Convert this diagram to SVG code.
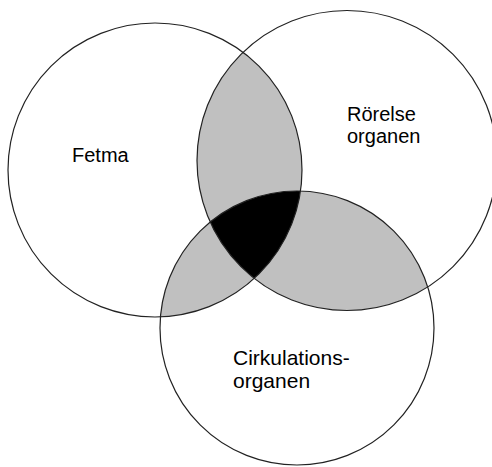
<svg xmlns="http://www.w3.org/2000/svg" width="492" height="467" viewBox="0 0 492 467">
<style>
.ring{fill:none;stroke:#222;stroke-width:1.2}
.lbl{font-family:"Liberation Sans",Arial,sans-serif;font-size:20px;fill:#000}
.pair{fill:#c0c0c0}
.tri{fill:#000}
</style>
<defs>
<clipPath id="clipA"><circle cx="155" cy="170" r="147"/></clipPath>
<clipPath id="clipB"><circle cx="347" cy="160.5" r="150"/></clipPath>
<clipPath id="clipC"><circle cx="297" cy="328" r="137"/></clipPath>
</defs>
<rect width="492" height="467" fill="#fff"/>
<g id="overlaps">
<g clip-path="url(#clipA)"><circle class="pair" cx="347" cy="160.5" r="150"/><circle class="pair" cx="297" cy="328" r="137"/></g>
<g clip-path="url(#clipB)"><circle class="pair" cx="297" cy="328" r="137"/></g>
<g clip-path="url(#clipA)"><g clip-path="url(#clipB)"><circle class="tri" cx="297" cy="328" r="137"/></g></g>
</g>
<g id="fetma">
<circle class="ring" cx="155" cy="170" r="147"/>
<text class="lbl" x="72" y="162">Fetma</text>
</g>
<g id="rorelse">
<circle class="ring" cx="347" cy="160.5" r="150"/>
<text class="lbl" x="347" y="121">Rörelse</text>
<text class="lbl" x="347" y="143">organen</text>
</g>
<g id="cirkulation">
<circle class="ring" cx="297" cy="328" r="137"/>
<text class="lbl" x="233" y="365" font-size="21" style="font-size:21px">Cirkulations-</text>
<text class="lbl" x="233" y="388" style="font-size:21px">organen</text>
</g>
</svg>
